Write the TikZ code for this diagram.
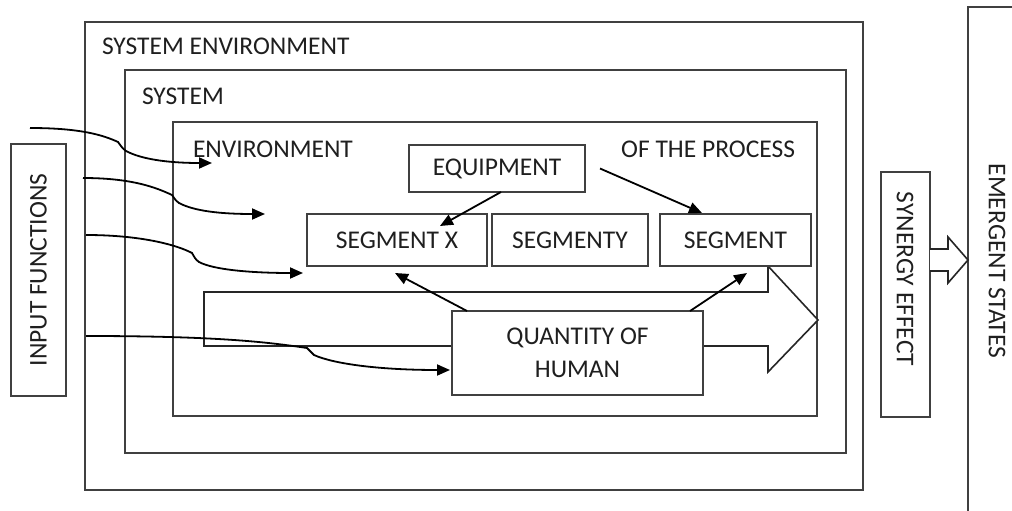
\documentclass[tikz,border=0pt]{standalone}
\usepackage{fontspec}
\setmainfont{Carlito}
\usetikzlibrary{arrows.meta,calc}
\begin{document}
\begin{tikzpicture}[x=1pt,y=-1pt,
  box/.style={draw=black!75, line width=1.4pt, inner sep=0pt, outer sep=0pt, fill=white,
              text=black!88, font=\fontsize{25.5}{33}\selectfont, align=center},
  lbl/.style={inner sep=0pt, outer sep=0pt, text=black!88, font=\fontsize{25.5}{33}\selectfont},
  broadarrow/.style={draw=black!85, line width=1.6pt, fill=white, line join=miter},
  flow/.style={line width=1.8pt, draw=black, -{Triangle[length=13pt,width=11pt]}}]

\clip (0,0) rectangle (1012,511);
\fill[white] (0,0) rectangle (1012,511);

% nested containers
\node[box, minimum width=778pt, minimum height=468pt] (sysenv) at (474,256) {};
\node[box, minimum width=721pt, minimum height=383pt] (sys) at (485.5,261.5) {};
\node[box, minimum width=644pt, minimum height=294pt] (proc) at (495,269) {};

\node[lbl, anchor=base west] (lsysenv) at (102,55) {SYSTEM ENVIRONMENT};
\node[lbl, anchor=base west] (lsys) at (142,104) {SYSTEM};
\node[lbl, anchor=base west] (lenv) at (193,157) {ENVIRONMENT};
\node[lbl, anchor=base east] (lproc) at (795,157) {OF THE PROCESS};

% input functions
\node[box, rotate=90, minimum width=252pt, minimum height=55pt] (inp) at (38.5,270) {INPUT FUNCTIONS};

% broad process arrow
\draw[broadarrow] (204,292) -- (768,292) -- (768,266) -- (818,320) -- (768,372)
  -- (768,346) -- (204,346) -- cycle;

% process elements
\node[box, minimum width=176pt, minimum height=47pt] (eq) at (497,168.5) {EQUIPMENT};
\node[box, minimum width=180pt, minimum height=52pt] (segx) at (397,240) {SEGMENT X};
\node[box, minimum width=156pt, minimum height=52pt] (segy) at (570,240) {SEGMENTY};
\node[box, minimum width=151pt, minimum height=52pt] (seg) at (735.5,240) {SEGMENT};
\node[box, minimum width=251pt, minimum height=84pt] (qty) at (577.5,353) {QUANTITY OF\\HUMAN};

% input flows
\coordinate (s1) at (30,128);  \coordinate (e1) at (212,163);
\coordinate (s2) at (83,178);  \coordinate (e2) at (265,214);
\coordinate (s3) at (86,235);  \coordinate (e3) at (303,273);
\coordinate (s4) at (86,336);

\draw[flow] (s1) .. controls +(50,0) and +(-15,-7) .. (118,142)
  .. controls +(3,4) and +(-4,-3) .. (126,151)
  .. controls +(15,8) and +(-45,0) .. (e1);
\draw[flow] (s2) .. controls +(50,0) and +(-15,-7) .. (172,195)
  .. controls +(3,4) and +(-4,-3) .. (179,203)
  .. controls +(15,8) and +(-45,0) .. (e2);
\draw[flow] (s3) .. controls +(55,0) and +(-15,-8) .. (192,253)
  .. controls +(3,5) and +(-4,-3) .. (199,262)
  .. controls +(15,8) and +(-50,0) .. (e3);
\draw[flow] (s4) .. controls +(130,0) and +(-40,-6) .. (307,348)
  .. controls +(3,4) and +(-4,-3) .. (314,355)
  .. controls +(20,9) and +(-70,0) .. ([xshift=-2pt]qty.west |- 0,370);

% element links
\draw[flow] ([xshift=4pt]eq.south) -- ([xshift=43pt,yshift=-12pt]segx.north);
\draw[flow] ([xshift=15pt]eq.east) -- ([xshift=-33.5pt,yshift=1pt]seg.north);
\draw[flow] ([xshift=-110.5pt]qty.north) -- ([xshift=-2pt,yshift=-7pt]segx.south);
\draw[flow] ([xshift=112.5pt]qty.north) -- ([xshift=11.5pt,yshift=-7pt]seg.south);

% synergy and emergent states
\node[box, minimum width=49pt, minimum height=245pt] (syn) at (905.5,294.5) {};
\node[lbl, rotate=-90] (lsyn) at (905,279) {SYNERGY EFFECT};
\node[box, anchor=north west, minimum width=80pt, minimum height=530pt] (emg) at (968,7) {};
\node[lbl, rotate=-90] (lemg) at (997,261) {EMERGENT STATES};

\draw[broadarrow] (syn.east |- 0,249) -- (948,249) -- (948,237) -- (emg.west |- 0,260)
  -- (948,283) -- (948,271) -- (syn.east |- 0,271);

\end{tikzpicture}
\end{document}
